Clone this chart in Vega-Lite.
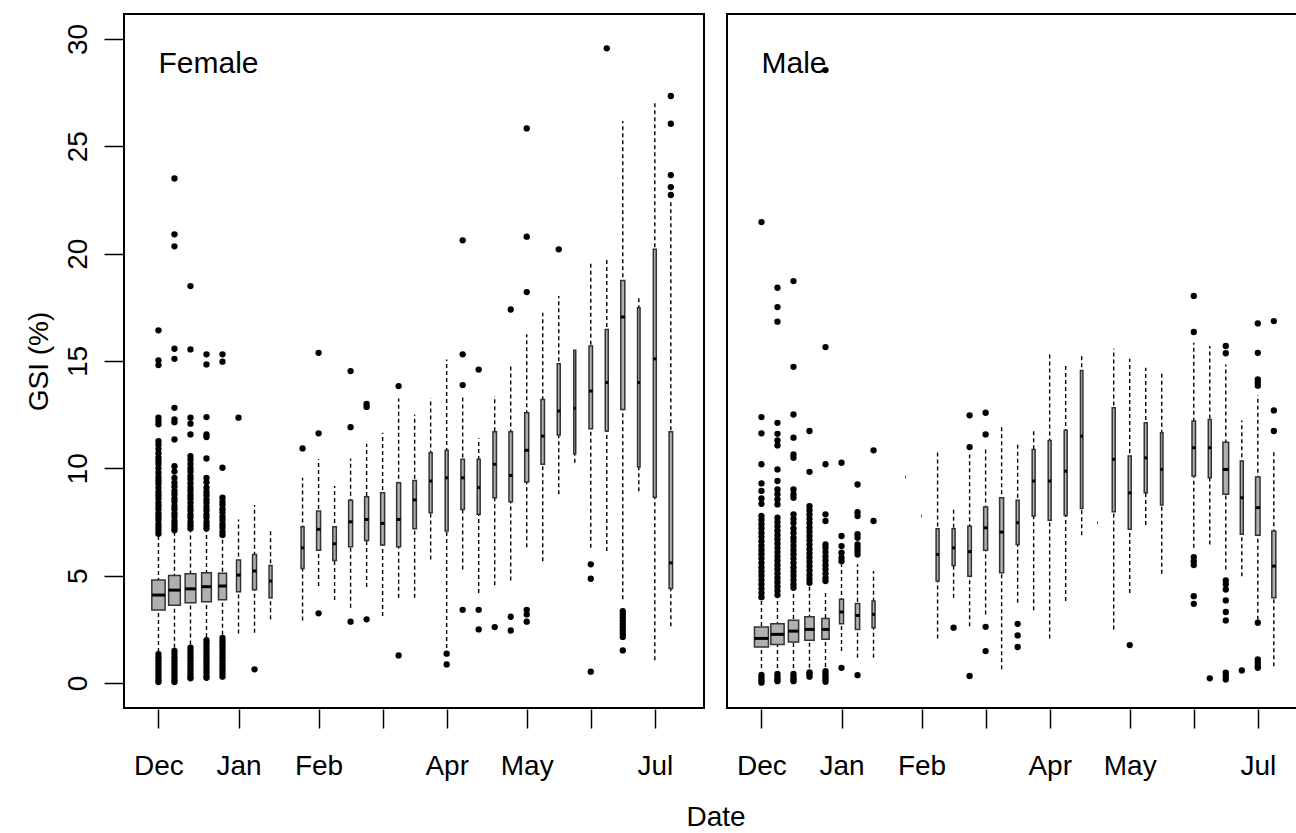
{
  "$schema": "https://vega.github.io/schema/vega-lite/v6.json",
  "padding": {"left": 25, "top": 13, "right": 0, "bottom": 0},
  "background": "white",
  "config": {
    "font": "Liberation Sans",
    "view": {"stroke": "#000", "strokeWidth": 2},
    "axis": {"grid": false, "domain": false, "tickColor": "#000", "tickWidth": 1.5, "tickSize": 19, "labelColor": "#000", "titleColor": "#000", "labelFontSize": 28, "titleFontSize": 28, "titleFontWeight": "normal"},
    "header": {"titleFontSize": 28, "titleFontWeight": "normal", "titleColor": "#000", "titleFont": "Liberation Sans"}
  },
  "data": {"values": [
    {"sex":"Female","week":0,"lower":1.45,"q1":3.40,"median":4.10,"q3":4.80,"upper":6.85,"n":632},
    {"sex":"Female","week":1,"lower":1.65,"q1":3.63,"median":4.33,"q3":5.01,"upper":7.00,"n":489},
    {"sex":"Female","week":2,"lower":1.80,"q1":3.74,"median":4.39,"q3":5.09,"upper":7.05,"n":409},
    {"sex":"Female","week":3,"lower":2.15,"q1":3.79,"median":4.49,"q3":5.14,"upper":7.10,"n":336},
    {"sex":"Female","week":4,"lower":2.25,"q1":3.88,"median":4.52,"q3":5.12,"upper":6.80,"n":229},
    {"sex":"Female","week":5,"lower":2.31,"q1":4.25,"median":5.03,"q3":5.73,"upper":7.62,"n":57},
    {"sex":"Female","week":6,"lower":2.34,"q1":4.35,"median":5.22,"q3":5.99,"upper":8.29,"n":57},
    {"sex":"Female","week":7,"lower":2.97,"q1":3.97,"median":4.75,"q3":5.48,"upper":7.08,"n":32},
    {"sex":"Female","week":9,"lower":2.92,"q1":5.34,"median":6.30,"q3":7.28,"upper":9.56,"n":32},
    {"sex":"Female","week":10,"lower":4.52,"q1":6.19,"median":7.16,"q3":8.01,"upper":10.42,"n":57},
    {"sex":"Female","week":11,"lower":3.87,"q1":5.71,"median":6.49,"q3":7.28,"upper":9.18,"n":44},
    {"sex":"Female","week":12,"lower":3.51,"q1":6.35,"median":7.51,"q3":8.52,"upper":10.46,"n":57},
    {"sex":"Female","week":13,"lower":4.47,"q1":6.64,"median":7.62,"q3":8.68,"upper":11.15,"n":57},
    {"sex":"Female","week":14,"lower":3.12,"q1":6.43,"median":7.44,"q3":8.86,"upper":11.66,"n":57},
    {"sex":"Female","week":15,"lower":3.97,"q1":6.35,"median":7.62,"q3":9.33,"upper":13.25,"n":57},
    {"sex":"Female","week":16,"lower":3.97,"q1":7.19,"median":8.53,"q3":9.44,"upper":12.51,"n":44},
    {"sex":"Female","week":17,"lower":5.76,"q1":7.93,"median":9.41,"q3":10.73,"upper":13.26,"n":32},
    {"sex":"Female","week":18,"lower":1.64,"q1":7.08,"median":9.56,"q3":10.84,"upper":15.07,"n":32},
    {"sex":"Female","week":19,"lower":5.29,"q1":8.09,"median":9.56,"q3":10.42,"upper":13.35,"n":44},
    {"sex":"Female","week":20,"lower":4.20,"q1":7.86,"median":9.10,"q3":10.42,"upper":11.40,"n":32},
    {"sex":"Female","week":21,"lower":4.56,"q1":8.63,"median":10.19,"q3":11.70,"upper":13.37,"n":44},
    {"sex":"Female","week":22,"lower":4.78,"q1":8.45,"median":9.67,"q3":11.70,"upper":14.84,"n":44},
    {"sex":"Female","week":23,"lower":6.33,"q1":9.36,"median":10.84,"q3":12.59,"upper":16.24,"n":57},
    {"sex":"Female","week":24,"lower":5.68,"q1":10.19,"median":11.50,"q3":13.21,"upper":17.25,"n":44},
    {"sex":"Female","week":25,"lower":8.79,"q1":11.55,"median":12.67,"q3":14.87,"upper":18.03,"n":32},
    {"sex":"Female","week":26,"lower":10.26,"q1":10.68,"median":12.80,"q3":15.50,"upper":15.50,"n":14},
    {"sex":"Female","week":27,"lower":6.30,"q1":11.85,"median":13.60,"q3":15.70,"upper":19.58,"n":44},
    {"sex":"Female","week":28,"lower":6.15,"q1":11.74,"median":14.00,"q3":16.47,"upper":19.81,"n":32},
    {"sex":"Female","week":29,"lower":3.90,"q1":12.74,"median":17.05,"q3":18.75,"upper":26.18,"n":57},
    {"sex":"Female","week":30,"lower":8.94,"q1":10.06,"median":14.00,"q3":17.48,"upper":17.98,"n":22},
    {"sex":"Female","week":31,"lower":1.06,"q1":8.66,"median":15.10,"q3":20.20,"upper":27.10,"n":32},
    {"sex":"Female","week":32,"lower":2.65,"q1":4.41,"median":5.60,"q3":11.70,"upper":22.45,"n":44},
    {"sex":"Male","week":0,"lower":0.70,"q1":1.68,"median":2.08,"q3":2.61,"upper":3.85,"n":700},
    {"sex":"Male","week":1,"lower":0.70,"q1":1.80,"median":2.27,"q3":2.76,"upper":3.95,"n":632},
    {"sex":"Male","week":2,"lower":0.70,"q1":1.91,"median":2.42,"q3":2.93,"upper":4.30,"n":379},
    {"sex":"Male","week":3,"lower":0.71,"q1":1.99,"median":2.50,"q3":3.09,"upper":4.52,"n":309},
    {"sex":"Male","week":4,"lower":0.75,"q1":2.04,"median":2.50,"q3":3.01,"upper":4.28,"n":190},
    {"sex":"Male","week":5,"lower":1.49,"q1":2.76,"median":3.31,"q3":3.90,"upper":5.53,"n":57},
    {"sex":"Male","week":6,"lower":1.18,"q1":2.50,"median":3.15,"q3":3.71,"upper":5.53,"n":66},
    {"sex":"Male","week":7,"lower":1.18,"q1":2.58,"median":3.20,"q3":3.82,"upper":5.22,"n":32},
    {"sex":"Male","week":9,"lower":9.60,"q1":9.60,"median":9.60,"q3":9.60,"upper":9.60,"n":1},
    {"sex":"Male","week":10,"lower":7.78,"q1":7.78,"median":7.78,"q3":7.78,"upper":7.78,"n":1},
    {"sex":"Male","week":11,"lower":2.08,"q1":4.75,"median":5.99,"q3":7.19,"upper":10.81,"n":32},
    {"sex":"Male","week":12,"lower":3.97,"q1":5.48,"median":6.30,"q3":7.19,"upper":8.20,"n":32},
    {"sex":"Male","week":13,"lower":2.65,"q1":4.98,"median":6.12,"q3":7.31,"upper":10.65,"n":44},
    {"sex":"Male","week":14,"lower":3.20,"q1":6.19,"median":7.23,"q3":8.20,"upper":10.96,"n":57},
    {"sex":"Male","week":15,"lower":0.64,"q1":5.14,"median":7.03,"q3":8.63,"upper":11.92,"n":57},
    {"sex":"Male","week":16,"lower":3.74,"q1":6.46,"median":7.47,"q3":8.51,"upper":11.12,"n":32},
    {"sex":"Male","week":17,"lower":3.39,"q1":7.78,"median":9.41,"q3":10.88,"upper":11.77,"n":32},
    {"sex":"Male","week":18,"lower":2.08,"q1":7.58,"median":9.41,"q3":11.30,"upper":15.38,"n":32},
    {"sex":"Male","week":19,"lower":3.82,"q1":7.81,"median":9.87,"q3":11.77,"upper":14.87,"n":32},
    {"sex":"Male","week":20,"lower":6.89,"q1":8.13,"median":11.50,"q3":14.56,"upper":15.31,"n":22},
    {"sex":"Male","week":21,"lower":7.47,"q1":7.47,"median":7.47,"q3":7.47,"upper":7.47,"n":1},
    {"sex":"Male","week":22,"lower":2.50,"q1":7.98,"median":10.42,"q3":12.82,"upper":15.57,"n":32},
    {"sex":"Male","week":23,"lower":4.20,"q1":7.16,"median":8.86,"q3":10.57,"upper":15.10,"n":32},
    {"sex":"Male","week":24,"lower":7.36,"q1":8.86,"median":10.49,"q3":12.12,"upper":14.69,"n":32},
    {"sex":"Male","week":25,"lower":5.09,"q1":8.29,"median":9.95,"q3":11.66,"upper":14.45,"n":22},
    {"sex":"Male","week":27,"lower":6.30,"q1":9.64,"median":10.96,"q3":12.20,"upper":15.85,"n":44},
    {"sex":"Male","week":28,"lower":6.46,"q1":9.56,"median":10.96,"q3":12.28,"upper":15.70,"n":32},
    {"sex":"Male","week":29,"lower":5.29,"q1":8.79,"median":9.95,"q3":11.22,"upper":14.84,"n":116},
    {"sex":"Male","week":30,"lower":4.98,"q1":6.93,"median":8.63,"q3":10.34,"upper":12.23,"n":32},
    {"sex":"Male","week":31,"lower":2.95,"q1":6.88,"median":8.17,"q3":9.60,"upper":13.40,"n":72},
    {"sex":"Male","week":32,"lower":0.79,"q1":3.97,"median":5.45,"q3":7.08,"upper":10.81,"n":57},

    {"sex":"Female","week":0,"gsi":16.43},{"sex":"Female","week":0,"gsi":15.03},{"sex":"Female","week":0,"gsi":14.81},{"sex":"Female","week":0,"gsi":12.36},{"sex":"Female","week":0,"gsi":12.2},{"sex":"Female","week":0,"gsi":12.05},{"sex":"Female","week":0,"gsi":11.27},{"sex":"Female","week":0,"gsi":11.1},{"sex":"Female","week":0,"gsi":10.9},{"sex":"Female","week":0,"gsi":10.7},{"sex":"Female","week":0,"gsi":10.5},{"sex":"Female","week":0,"gsi":10.35},{"sex":"Female","week":0,"gsi":10.2},{"sex":"Female","week":0,"gsi":10.0},{"sex":"Female","week":0,"gsi":9.8},{"sex":"Female","week":0,"gsi":9.6},{"sex":"Female","week":0,"gsi":9.45},{"sex":"Female","week":0,"gsi":9.3},{"sex":"Female","week":0,"gsi":9.1},{"sex":"Female","week":0,"gsi":8.9},{"sex":"Female","week":0,"gsi":8.75},{"sex":"Female","week":0,"gsi":8.6},{"sex":"Female","week":0,"gsi":8.4},{"sex":"Female","week":0,"gsi":8.25},{"sex":"Female","week":0,"gsi":8.1},{"sex":"Female","week":0,"gsi":7.9},{"sex":"Female","week":0,"gsi":7.75},{"sex":"Female","week":0,"gsi":7.6},{"sex":"Female","week":0,"gsi":7.4},{"sex":"Female","week":0,"gsi":7.25},{"sex":"Female","week":0,"gsi":7.1},{"sex":"Female","week":0,"gsi":6.95},{"sex":"Female","week":0,"gsi":1.35},{"sex":"Female","week":0,"gsi":1.2},{"sex":"Female","week":0,"gsi":1.05},{"sex":"Female","week":0,"gsi":0.9},{"sex":"Female","week":0,"gsi":0.75},{"sex":"Female","week":0,"gsi":0.6},{"sex":"Female","week":0,"gsi":0.45},{"sex":"Female","week":0,"gsi":0.3},{"sex":"Female","week":0,"gsi":0.15},{"sex":"Female","week":0,"gsi":0.05},
    {"sex":"Female","week":1,"gsi":23.5},{"sex":"Female","week":1,"gsi":20.9},{"sex":"Female","week":1,"gsi":20.34},{"sex":"Female","week":1,"gsi":15.57},{"sex":"Female","week":1,"gsi":15.1},{"sex":"Female","week":1,"gsi":12.82},{"sex":"Female","week":1,"gsi":12.28},{"sex":"Female","week":1,"gsi":12.15},{"sex":"Female","week":1,"gsi":11.35},{"sex":"Female","week":1,"gsi":10.1},{"sex":"Female","week":1,"gsi":9.85},{"sex":"Female","week":1,"gsi":9.56},{"sex":"Female","week":1,"gsi":9.33},{"sex":"Female","week":1,"gsi":9.15},{"sex":"Female","week":1,"gsi":8.95},{"sex":"Female","week":1,"gsi":8.8},{"sex":"Female","week":1,"gsi":8.6},{"sex":"Female","week":1,"gsi":8.45},{"sex":"Female","week":1,"gsi":8.25},{"sex":"Female","week":1,"gsi":8.1},{"sex":"Female","week":1,"gsi":7.9},{"sex":"Female","week":1,"gsi":7.75},{"sex":"Female","week":1,"gsi":7.55},{"sex":"Female","week":1,"gsi":7.4},{"sex":"Female","week":1,"gsi":7.25},{"sex":"Female","week":1,"gsi":7.12},{"sex":"Female","week":1,"gsi":1.5},{"sex":"Female","week":1,"gsi":1.35},{"sex":"Female","week":1,"gsi":1.2},{"sex":"Female","week":1,"gsi":1.05},{"sex":"Female","week":1,"gsi":0.9},{"sex":"Female","week":1,"gsi":0.75},{"sex":"Female","week":1,"gsi":0.6},{"sex":"Female","week":1,"gsi":0.45},{"sex":"Female","week":1,"gsi":0.3},{"sex":"Female","week":1,"gsi":0.15},{"sex":"Female","week":1,"gsi":0.05},
    {"sex":"Female","week":2,"gsi":18.49},{"sex":"Female","week":2,"gsi":15.54},{"sex":"Female","week":2,"gsi":12.36},{"sex":"Female","week":2,"gsi":12.08},{"sex":"Female","week":2,"gsi":11.58},{"sex":"Female","week":2,"gsi":10.57},{"sex":"Female","week":2,"gsi":10.4},{"sex":"Female","week":2,"gsi":10.2},{"sex":"Female","week":2,"gsi":10.0},{"sex":"Female","week":2,"gsi":9.85},{"sex":"Female","week":2,"gsi":9.65},{"sex":"Female","week":2,"gsi":9.5},{"sex":"Female","week":2,"gsi":9.3},{"sex":"Female","week":2,"gsi":9.1},{"sex":"Female","week":2,"gsi":8.95},{"sex":"Female","week":2,"gsi":8.75},{"sex":"Female","week":2,"gsi":8.6},{"sex":"Female","week":2,"gsi":8.4},{"sex":"Female","week":2,"gsi":8.2},{"sex":"Female","week":2,"gsi":8.05},{"sex":"Female","week":2,"gsi":7.85},{"sex":"Female","week":2,"gsi":7.7},{"sex":"Female","week":2,"gsi":7.5},{"sex":"Female","week":2,"gsi":7.35},{"sex":"Female","week":2,"gsi":7.2},{"sex":"Female","week":2,"gsi":1.65},{"sex":"Female","week":2,"gsi":1.5},{"sex":"Female","week":2,"gsi":1.35},{"sex":"Female","week":2,"gsi":1.2},{"sex":"Female","week":2,"gsi":1.05},{"sex":"Female","week":2,"gsi":0.9},{"sex":"Female","week":2,"gsi":0.75},{"sex":"Female","week":2,"gsi":0.6},{"sex":"Female","week":2,"gsi":0.45},{"sex":"Female","week":2,"gsi":0.3},{"sex":"Female","week":2,"gsi":0.22},
    {"sex":"Female","week":3,"gsi":15.31},{"sex":"Female","week":3,"gsi":14.84},{"sex":"Female","week":3,"gsi":12.39},{"sex":"Female","week":3,"gsi":11.58},{"sex":"Female","week":3,"gsi":11.46},{"sex":"Female","week":3,"gsi":10.46},{"sex":"Female","week":3,"gsi":9.56},{"sex":"Female","week":3,"gsi":9.35},{"sex":"Female","week":3,"gsi":9.1},{"sex":"Female","week":3,"gsi":8.9},{"sex":"Female","week":3,"gsi":8.75},{"sex":"Female","week":3,"gsi":8.55},{"sex":"Female","week":3,"gsi":8.4},{"sex":"Female","week":3,"gsi":8.2},{"sex":"Female","week":3,"gsi":8.05},{"sex":"Female","week":3,"gsi":7.85},{"sex":"Female","week":3,"gsi":7.7},{"sex":"Female","week":3,"gsi":7.5},{"sex":"Female","week":3,"gsi":7.35},{"sex":"Female","week":3,"gsi":7.2},{"sex":"Female","week":3,"gsi":2.0},{"sex":"Female","week":3,"gsi":1.85},{"sex":"Female","week":3,"gsi":1.7},{"sex":"Female","week":3,"gsi":1.55},{"sex":"Female","week":3,"gsi":1.4},{"sex":"Female","week":3,"gsi":1.25},{"sex":"Female","week":3,"gsi":1.1},{"sex":"Female","week":3,"gsi":0.95},{"sex":"Female","week":3,"gsi":0.8},{"sex":"Female","week":3,"gsi":0.65},{"sex":"Female","week":3,"gsi":0.5},{"sex":"Female","week":3,"gsi":0.35},{"sex":"Female","week":3,"gsi":0.25},
    {"sex":"Female","week":4,"gsi":15.31},{"sex":"Female","week":4,"gsi":14.97},{"sex":"Female","week":4,"gsi":10.03},{"sex":"Female","week":4,"gsi":8.63},{"sex":"Female","week":4,"gsi":8.45},{"sex":"Female","week":4,"gsi":8.3},{"sex":"Female","week":4,"gsi":8.1},{"sex":"Female","week":4,"gsi":7.95},{"sex":"Female","week":4,"gsi":7.75},{"sex":"Female","week":4,"gsi":7.6},{"sex":"Female","week":4,"gsi":7.4},{"sex":"Female","week":4,"gsi":7.25},{"sex":"Female","week":4,"gsi":7.05},{"sex":"Female","week":4,"gsi":6.9},{"sex":"Female","week":4,"gsi":2.1},{"sex":"Female","week":4,"gsi":1.95},{"sex":"Female","week":4,"gsi":1.8},{"sex":"Female","week":4,"gsi":1.65},{"sex":"Female","week":4,"gsi":1.5},{"sex":"Female","week":4,"gsi":1.35},{"sex":"Female","week":4,"gsi":1.2},{"sex":"Female","week":4,"gsi":1.05},{"sex":"Female","week":4,"gsi":0.9},{"sex":"Female","week":4,"gsi":0.75},{"sex":"Female","week":4,"gsi":0.6},{"sex":"Female","week":4,"gsi":0.45},{"sex":"Female","week":4,"gsi":0.3},
    {"sex":"Female","week":5,"gsi":12.36},
    {"sex":"Female","week":6,"gsi":0.64},
    {"sex":"Female","week":9,"gsi":10.93},
    {"sex":"Female","week":10,"gsi":15.38},{"sex":"Female","week":10,"gsi":11.63},{"sex":"Female","week":10,"gsi":3.25},
    {"sex":"Female","week":12,"gsi":14.53},{"sex":"Female","week":12,"gsi":11.92},{"sex":"Female","week":12,"gsi":2.86},
    {"sex":"Female","week":13,"gsi":13.0},{"sex":"Female","week":13,"gsi":12.86},{"sex":"Female","week":13,"gsi":2.97},
    {"sex":"Female","week":15,"gsi":13.83},{"sex":"Female","week":15,"gsi":1.29},
    {"sex":"Female","week":18,"gsi":1.37},{"sex":"Female","week":18,"gsi":0.87},
    {"sex":"Female","week":19,"gsi":20.62},{"sex":"Female","week":19,"gsi":15.31},{"sex":"Female","week":19,"gsi":13.88},{"sex":"Female","week":19,"gsi":3.41},
    {"sex":"Female","week":20,"gsi":14.6},{"sex":"Female","week":20,"gsi":3.41},{"sex":"Female","week":20,"gsi":2.5},
    {"sex":"Female","week":21,"gsi":2.61},
    {"sex":"Female","week":22,"gsi":17.4},{"sex":"Female","week":22,"gsi":3.09},{"sex":"Female","week":22,"gsi":2.45},
    {"sex":"Female","week":23,"gsi":25.83},{"sex":"Female","week":23,"gsi":20.79},{"sex":"Female","week":23,"gsi":18.21},{"sex":"Female","week":23,"gsi":3.41},{"sex":"Female","week":23,"gsi":3.2},{"sex":"Female","week":23,"gsi":2.86},
    {"sex":"Female","week":25,"gsi":20.2},
    {"sex":"Female","week":27,"gsi":5.53},{"sex":"Female","week":27,"gsi":4.86},{"sex":"Female","week":27,"gsi":0.53},
    {"sex":"Female","week":28,"gsi":29.56},
    {"sex":"Female","week":29,"gsi":3.35},{"sex":"Female","week":29,"gsi":3.2},{"sex":"Female","week":29,"gsi":3.05},{"sex":"Female","week":29,"gsi":2.9},{"sex":"Female","week":29,"gsi":2.75},{"sex":"Female","week":29,"gsi":2.6},{"sex":"Female","week":29,"gsi":2.45},{"sex":"Female","week":29,"gsi":2.3},{"sex":"Female","week":29,"gsi":2.15},{"sex":"Female","week":29,"gsi":1.52},
    {"sex":"Female","week":32,"gsi":27.34},{"sex":"Female","week":32,"gsi":26.05},{"sex":"Female","week":32,"gsi":23.66},{"sex":"Female","week":32,"gsi":23.1},{"sex":"Female","week":32,"gsi":22.73},

    {"sex":"Male","week":0,"gsi":21.47},{"sex":"Male","week":0,"gsi":12.39},{"sex":"Male","week":0,"gsi":11.63},{"sex":"Male","week":0,"gsi":10.19},{"sex":"Male","week":0,"gsi":9.3},{"sex":"Male","week":0,"gsi":8.95},{"sex":"Male","week":0,"gsi":8.6},{"sex":"Male","week":0,"gsi":8.35},{"sex":"Male","week":0,"gsi":7.78},{"sex":"Male","week":0,"gsi":7.6},{"sex":"Male","week":0,"gsi":7.4},{"sex":"Male","week":0,"gsi":7.2},{"sex":"Male","week":0,"gsi":7.0},{"sex":"Male","week":0,"gsi":6.8},{"sex":"Male","week":0,"gsi":6.6},{"sex":"Male","week":0,"gsi":6.4},{"sex":"Male","week":0,"gsi":6.2},{"sex":"Male","week":0,"gsi":6.0},{"sex":"Male","week":0,"gsi":5.8},{"sex":"Male","week":0,"gsi":5.6},{"sex":"Male","week":0,"gsi":5.4},{"sex":"Male","week":0,"gsi":5.2},{"sex":"Male","week":0,"gsi":5.0},{"sex":"Male","week":0,"gsi":4.8},{"sex":"Male","week":0,"gsi":4.6},{"sex":"Male","week":0,"gsi":4.4},{"sex":"Male","week":0,"gsi":4.2},{"sex":"Male","week":0,"gsi":4.0},{"sex":"Male","week":0,"gsi":0.38},{"sex":"Male","week":0,"gsi":0.25},{"sex":"Male","week":0,"gsi":0.12},{"sex":"Male","week":0,"gsi":0.02},
    {"sex":"Male","week":1,"gsi":18.41},{"sex":"Male","week":1,"gsi":17.51},{"sex":"Male","week":1,"gsi":16.83},{"sex":"Male","week":1,"gsi":12.12},{"sex":"Male","week":1,"gsi":11.61},{"sex":"Male","week":1,"gsi":11.3},{"sex":"Male","week":1,"gsi":11.07},{"sex":"Male","week":1,"gsi":9.95},{"sex":"Male","week":1,"gsi":9.41},{"sex":"Male","week":1,"gsi":9.02},{"sex":"Male","week":1,"gsi":8.8},{"sex":"Male","week":1,"gsi":8.55},{"sex":"Male","week":1,"gsi":8.32},{"sex":"Male","week":1,"gsi":7.7},{"sex":"Male","week":1,"gsi":7.5},{"sex":"Male","week":1,"gsi":7.3},{"sex":"Male","week":1,"gsi":7.1},{"sex":"Male","week":1,"gsi":6.9},{"sex":"Male","week":1,"gsi":6.7},{"sex":"Male","week":1,"gsi":6.5},{"sex":"Male","week":1,"gsi":6.3},{"sex":"Male","week":1,"gsi":6.1},{"sex":"Male","week":1,"gsi":5.9},{"sex":"Male","week":1,"gsi":5.7},{"sex":"Male","week":1,"gsi":5.5},{"sex":"Male","week":1,"gsi":5.3},{"sex":"Male","week":1,"gsi":5.1},{"sex":"Male","week":1,"gsi":4.9},{"sex":"Male","week":1,"gsi":4.7},{"sex":"Male","week":1,"gsi":4.5},{"sex":"Male","week":1,"gsi":4.3},{"sex":"Male","week":1,"gsi":4.1},{"sex":"Male","week":1,"gsi":0.43},{"sex":"Male","week":1,"gsi":0.3},{"sex":"Male","week":1,"gsi":0.18},{"sex":"Male","week":1,"gsi":0.09},
    {"sex":"Male","week":2,"gsi":18.72},{"sex":"Male","week":2,"gsi":14.73},{"sex":"Male","week":2,"gsi":12.51},{"sex":"Male","week":2,"gsi":11.43},{"sex":"Male","week":2,"gsi":10.65},{"sex":"Male","week":2,"gsi":10.49},{"sex":"Male","week":2,"gsi":9.02},{"sex":"Male","week":2,"gsi":8.8},{"sex":"Male","week":2,"gsi":8.63},{"sex":"Male","week":2,"gsi":7.86},{"sex":"Male","week":2,"gsi":7.65},{"sex":"Male","week":2,"gsi":7.45},{"sex":"Male","week":2,"gsi":7.2},{"sex":"Male","week":2,"gsi":7.0},{"sex":"Male","week":2,"gsi":6.77},{"sex":"Male","week":2,"gsi":6.6},{"sex":"Male","week":2,"gsi":6.4},{"sex":"Male","week":2,"gsi":6.2},{"sex":"Male","week":2,"gsi":6.0},{"sex":"Male","week":2,"gsi":5.8},{"sex":"Male","week":2,"gsi":5.6},{"sex":"Male","week":2,"gsi":5.4},{"sex":"Male","week":2,"gsi":5.2},{"sex":"Male","week":2,"gsi":5.0},{"sex":"Male","week":2,"gsi":4.8},{"sex":"Male","week":2,"gsi":4.6},{"sex":"Male","week":2,"gsi":4.44},{"sex":"Male","week":2,"gsi":0.43},{"sex":"Male","week":2,"gsi":0.3},{"sex":"Male","week":2,"gsi":0.18},{"sex":"Male","week":2,"gsi":0.09},
    {"sex":"Male","week":3,"gsi":11.74},{"sex":"Male","week":3,"gsi":9.84},{"sex":"Male","week":3,"gsi":8.24},{"sex":"Male","week":3,"gsi":8.05},{"sex":"Male","week":3,"gsi":7.85},{"sex":"Male","week":3,"gsi":7.65},{"sex":"Male","week":3,"gsi":7.45},{"sex":"Male","week":3,"gsi":7.25},{"sex":"Male","week":3,"gsi":7.05},{"sex":"Male","week":3,"gsi":6.85},{"sex":"Male","week":3,"gsi":6.65},{"sex":"Male","week":3,"gsi":6.45},{"sex":"Male","week":3,"gsi":6.25},{"sex":"Male","week":3,"gsi":6.05},{"sex":"Male","week":3,"gsi":5.85},{"sex":"Male","week":3,"gsi":5.65},{"sex":"Male","week":3,"gsi":5.45},{"sex":"Male","week":3,"gsi":5.25},{"sex":"Male","week":3,"gsi":5.05},{"sex":"Male","week":3,"gsi":4.85},{"sex":"Male","week":3,"gsi":4.67},{"sex":"Male","week":3,"gsi":0.5},{"sex":"Male","week":3,"gsi":0.4},{"sex":"Male","week":3,"gsi":0.3},
    {"sex":"Male","week":4,"gsi":28.55},{"sex":"Male","week":4,"gsi":15.65},{"sex":"Male","week":4,"gsi":10.19},{"sex":"Male","week":4,"gsi":7.86},{"sex":"Male","week":4,"gsi":7.55},{"sex":"Male","week":4,"gsi":6.46},{"sex":"Male","week":4,"gsi":6.3},{"sex":"Male","week":4,"gsi":6.1},{"sex":"Male","week":4,"gsi":5.9},{"sex":"Male","week":4,"gsi":5.7},{"sex":"Male","week":4,"gsi":5.5},{"sex":"Male","week":4,"gsi":5.3},{"sex":"Male","week":4,"gsi":5.1},{"sex":"Male","week":4,"gsi":4.9},{"sex":"Male","week":4,"gsi":4.75},{"sex":"Male","week":4,"gsi":0.55},{"sex":"Male","week":4,"gsi":0.42},{"sex":"Male","week":4,"gsi":0.3},{"sex":"Male","week":4,"gsi":0.18},{"sex":"Male","week":4,"gsi":0.06},
    {"sex":"Male","week":5,"gsi":10.26},{"sex":"Male","week":5,"gsi":6.85},{"sex":"Male","week":5,"gsi":6.38},{"sex":"Male","week":5,"gsi":6.07},{"sex":"Male","week":5,"gsi":5.84},{"sex":"Male","week":5,"gsi":5.68},{"sex":"Male","week":5,"gsi":0.71},
    {"sex":"Male","week":6,"gsi":9.25},{"sex":"Male","week":6,"gsi":7.96},{"sex":"Male","week":6,"gsi":7.78},{"sex":"Male","week":6,"gsi":6.93},{"sex":"Male","week":6,"gsi":6.77},{"sex":"Male","week":6,"gsi":6.46},{"sex":"Male","week":6,"gsi":6.3},{"sex":"Male","week":6,"gsi":6.15},{"sex":"Male","week":6,"gsi":5.99},{"sex":"Male","week":6,"gsi":0.37},
    {"sex":"Male","week":7,"gsi":10.84},{"sex":"Male","week":7,"gsi":7.55},
    {"sex":"Male","week":12,"gsi":2.58},
    {"sex":"Male","week":13,"gsi":12.47},{"sex":"Male","week":13,"gsi":10.99},{"sex":"Male","week":13,"gsi":0.33},
    {"sex":"Male","week":14,"gsi":12.59},{"sex":"Male","week":14,"gsi":11.58},{"sex":"Male","week":14,"gsi":2.62},{"sex":"Male","week":14,"gsi":1.49},
    {"sex":"Male","week":16,"gsi":2.76},{"sex":"Male","week":16,"gsi":2.22},{"sex":"Male","week":16,"gsi":1.68},
    {"sex":"Male","week":23,"gsi":1.77},
    {"sex":"Male","week":27,"gsi":18.03},{"sex":"Male","week":27,"gsi":16.35},{"sex":"Male","week":27,"gsi":5.87},{"sex":"Male","week":27,"gsi":5.68},{"sex":"Male","week":27,"gsi":5.5},{"sex":"Male","week":27,"gsi":4.05},{"sex":"Male","week":27,"gsi":3.69},
    {"sex":"Male","week":28,"gsi":0.22},
    {"sex":"Male","week":29,"gsi":15.7},{"sex":"Male","week":29,"gsi":15.36},{"sex":"Male","week":29,"gsi":4.78},{"sex":"Male","week":29,"gsi":4.6},{"sex":"Male","week":29,"gsi":4.36},{"sex":"Male","week":29,"gsi":3.85},{"sex":"Male","week":29,"gsi":3.31},{"sex":"Male","week":29,"gsi":2.92},{"sex":"Male","week":29,"gsi":0.48},{"sex":"Male","week":29,"gsi":0.33},{"sex":"Male","week":29,"gsi":0.17},
    {"sex":"Male","week":30,"gsi":0.59},
    {"sex":"Male","week":31,"gsi":16.75},{"sex":"Male","week":31,"gsi":15.38},{"sex":"Male","week":31,"gsi":14.14},{"sex":"Male","week":31,"gsi":14.0},{"sex":"Male","week":31,"gsi":13.85},{"sex":"Male","week":31,"gsi":2.81},{"sex":"Male","week":31,"gsi":1.1},{"sex":"Male","week":31,"gsi":0.95},{"sex":"Male","week":31,"gsi":0.8},{"sex":"Male","week":31,"gsi":0.71},
    {"sex":"Male","week":32,"gsi":16.86},{"sex":"Male","week":32,"gsi":12.7},{"sex":"Male","week":32,"gsi":11.74}
  ]},
  "facet": {"column": {"field": "sex", "type": "nominal", "sort": ["Female", "Male"], "title": "Date",
    "header": {"labels": false, "titleOrient": "bottom", "titleFontSize": 28, "titleFontWeight": "normal", "titleColor": "#000", "titleFont": "Liberation Sans", "titlePadding": 14}}},
  "spacing": 21,
  "spec": {
    "width": 580,
    "height": 694,
    "encoding": {
      "x": {"field": "week", "type": "quantitative", "title": null,
        "scale": {"domain": [-1.84, 33.76], "nice": false, "zero": false},
        "axis": {"values": [0, 5, 10, 14, 18, 23, 27, 31], "labelExpr": "datum.value == 0 ? 'Dec' : datum.value == 5 ? 'Jan' : datum.value == 10 ? 'Feb' : datum.value == 18 ? 'Apr' : datum.value == 23 ? 'May' : datum.value == 31 ? 'Jul' : ''", "labelPadding": 24, "labelFlush": false, "labelOverlap": false}}
    },
    "layer": [
      {
        "transform": [{"filter": "isValid(datum.median)"}],
        "mark": {"type": "rule", "color": "#000", "strokeWidth": 1.4, "strokeDash": [4, 3]},
        "encoding": {
          "y": {"field": "lower", "type": "quantitative", "title": "GSI (%)",
            "scale": {"domain": [-1.16, 31.16], "nice": false, "zero": false},
            "axis": {"values": [0, 5, 10, 15, 20, 25, 30], "labelAngle": 270, "labelAlign": "center", "labelBaseline": "bottom", "labelPadding": 12, "titlePadding": 11, "titleFontSize": 28, "titleFontWeight": "normal", "titleColor": "#000"}},
          "y2": {"field": "upper"}
        }
      },
      {
        "transform": [{"filter": "isValid(datum.median)"}],
        "mark": {"type": "bar", "fill": "#b0b0b0", "stroke": "#333", "strokeWidth": 1.5, "opacity": 1},
        "encoding": {
          "y": {"field": "q1", "type": "quantitative", "title": "GSI (%)"},
          "y2": {"field": "q3"},
          "size": {"field": "n", "type": "quantitative", "scale": {"type": "sqrt", "domain": [0, 700], "range": [0, 14]}, "legend": null}
        }
      },
      {
        "transform": [{"filter": "isValid(datum.median)"}],
        "mark": {"type": "tick", "orient": "horizontal", "color": "#000", "thickness": 3, "opacity": 1},
        "encoding": {
          "y": {"field": "median", "type": "quantitative", "title": "GSI (%)"},
          "size": {"field": "n", "type": "quantitative", "scale": {"type": "sqrt", "domain": [0, 700], "range": [0, 14]}, "legend": null}
        }
      },
      {
        "transform": [{"filter": "isValid(datum.gsi)"}],
        "mark": {"type": "circle", "color": "#000", "size": 40, "opacity": 1},
        "encoding": {
          "y": {"field": "gsi", "type": "quantitative", "title": "GSI (%)"}
        }
      },
      {
        "transform": [{"filter": "isValid(datum.median) && datum.week == 0"}],
        "mark": {"type": "text", "align": "left", "baseline": "alphabetic", "fontSize": 30, "color": "#000"},
        "encoding": {
          "x": {"datum": 0},
          "y": {"datum": 28.42},
          "text": {"field": "sex", "type": "nominal"}
        }
      }
    ]
  }
}
